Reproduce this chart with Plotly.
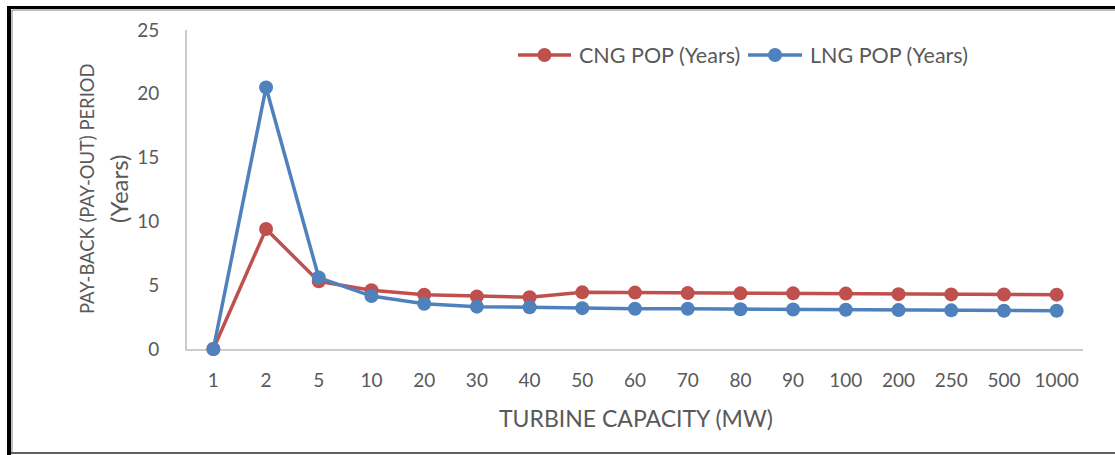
import plotly.graph_objects as go

capacity = ["1", "2", "5", "10", "20", "30", "40", "50", "60", "70", "80", "90",
            "100", "200", "250", "500", "1000"]
cng_pop = [0, 9.4, 5.3, 4.6, 4.25, 4.12, 4.05, 4.44, 4.42, 4.38, 4.36, 4.36,
           4.34, 4.3, 4.28, 4.27, 4.26]
lng_pop = [0, 20.5, 5.6, 4.15, 3.55, 3.32, 3.27, 3.2, 3.15, 3.15, 3.12, 3.1,
           3.08, 3.05, 3.03, 3.0, 3.0]
y_ticks = [0, 5, 10, 15, 20, 25]
series_names = ["CNG POP (Years)", "LNG POP (Years)"]
series_colors = ["#C0504D", "#4F81BD"]

W, H = 1115, 455
L, R, T, B = 187, 1083, 30, 349
pw, ph = R - L, B - T

def px(x):
    return (x - L) / pw

def py(y):
    return (B - y) / ph

FONT = "Lato"
GREY = "#595959"

fig = go.Figure()
for name, vals, col in zip(series_names, [cng_pop, lng_pop], series_colors):
    fig.add_trace(go.Scatter(
        x=capacity, y=vals, name=name, mode="lines+markers",
        line=dict(color=col, width=3.5),
        marker=dict(color=col, size=14), cliponaxis=False,
        showlegend=False))

fig.update_layout(
    width=W, height=H,
    margin=dict(l=L, r=W - R, t=T, b=H - B, pad=0),
    paper_bgcolor="white", plot_bgcolor="white",
    font=dict(family=FONT, size=19, color=GREY),
    showlegend=False,
    xaxis=dict(type="category", range=[-0.5, 16.5], showgrid=False,
               showline=True, linecolor="#cccccc", linewidth=2,
               layer="below traces",
               ticks="outside", ticklen=13, tickcolor="rgba(0,0,0,0)",
               tickfont=dict(size=19, color=GREY), zeroline=False),
    yaxis=dict(range=[0, 25], tickvals=y_ticks, showgrid=False,
               showline=True, linecolor="#cccccc", linewidth=2,
               layer="below traces",
               ticks="outside", ticklen=22, tickcolor="rgba(0,0,0,0)",
               tickfont=dict(size=19, color=GREY), zeroline=False),
)

fig.add_annotation(xref="paper", yref="paper", x=px(636), y=py(418),
                   text="TURBINE CAPACITY (MW)", showarrow=False,
                   xanchor="center", yanchor="middle",
                   font=dict(size=23, color=GREY, family=FONT))
fig.add_annotation(xref="paper", yref="paper", x=px(87), y=py(189),
                   text="PAY-BACK (PAY-OUT) PERIOD", showarrow=False,
                   textangle=-90, xanchor="center", yanchor="middle",
                   font=dict(size=18.4, color=GREY, family=FONT))
fig.add_annotation(xref="paper", yref="paper", x=px(118), y=py(189),
                   text="(Years)", showarrow=False,
                   textangle=-90, xanchor="center", yanchor="middle",
                   font=dict(size=24, color=GREY, family=FONT))

# legend (drawn manually so the key line matches the original length)
leg_y = 55
leg_items = [(518, 571, 577), (748, 802, 808)]
for (x0, x1, xt), name, col in zip(leg_items, series_names, series_colors):
    fig.add_shape(type="line", xref="paper", yref="paper",
                  x0=px(x0), x1=px(x1), y0=py(leg_y), y1=py(leg_y),
                  line=dict(color=col, width=3.5))
    cx = (x0 + x1) / 2
    fig.add_shape(type="circle", xref="paper", yref="paper",
                  x0=px(cx - 7), x1=px(cx + 7), y0=py(leg_y + 7), y1=py(leg_y - 7),
                  fillcolor=col, line=dict(width=0))
    fig.add_annotation(xref="paper", yref="paper", x=px(xt), y=py(leg_y),
                       text=name, showarrow=False, xanchor="left",
                       yanchor="middle",
                       font=dict(size=21.5, color=GREY, family=FONT))

# outer frame
fig.add_shape(type="rect", xref="paper", yref="paper",
              x0=px(7), x1=px(11), y0=py(455), y1=py(6),
              fillcolor="black", line=dict(width=0), layer="above")
fig.add_shape(type="rect", xref="paper", yref="paper",
              x0=px(7), x1=px(1115), y0=py(9), y1=py(6),
              fillcolor="black", line=dict(width=0), layer="above")
fig.add_shape(type="line", xref="paper", yref="paper",
              x0=px(12), x1=px(12), y0=py(453), y1=py(10),
              line=dict(color="#808080", width=1))
fig.add_shape(type="line", xref="paper", yref="paper",
              x0=px(12), x1=px(1115), y0=py(10), y1=py(10),
              line=dict(color="#808080", width=1))
fig.add_shape(type="line", xref="paper", yref="paper",
              x0=px(11), x1=px(1115), y0=py(453), y1=py(453),
              line=dict(color="#606060", width=2))

fig.write_html("out.html")
